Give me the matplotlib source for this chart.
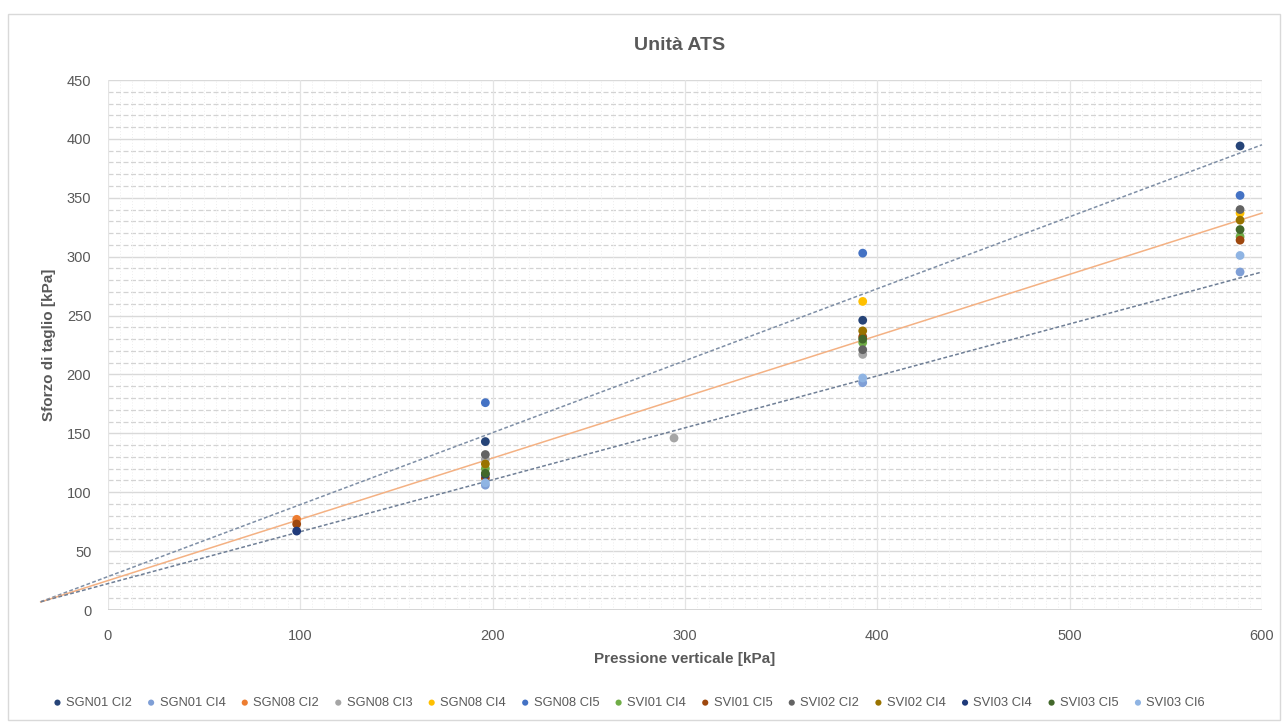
import matplotlib
matplotlib.use("Agg")
import matplotlib.pyplot as plt
from matplotlib.patches import Rectangle
import numpy as np

plt.rcParams['font.family'] = ['Liberation Sans', 'DejaVu Sans']

# Shear test results per specimen: vertical pressure [kPa] -> shear stress [kPa]
series_names = ["SGN01 CI2", "SGN01 CI4", "SGN08 CI2", "SGN08 CI3", "SGN08 CI4",
                "SGN08 CI5", "SVI01 CI4", "SVI01 CI5", "SVI02 CI2", "SVI02 CI4",
                "SVI03 CI4", "SVI03 CI5", "SVI03 CI6"]
series_colors = ["#264478", "#7F9FD6", "#ED7D31", "#A5A5A5", "#FFC000",
                 "#4472C4", "#70AD47", "#9E480E", "#636363", "#997300",
                 "#1F3A7A", "#43682B", "#8FB4E3"]

sgn01_ci2_x = [196.2, 392.4, 588.6]
sgn01_ci2_y = [143, 246, 394]
sgn01_ci4_x = [196.2, 392.4, 588.6]
sgn01_ci4_y = [106, 193, 287]
sgn08_ci2_x = [98.1]
sgn08_ci2_y = [77]
sgn08_ci3_x = [196.2, 294.3, 392.4]
sgn08_ci3_y = [128, 146, 217]
sgn08_ci4_x = [392.4, 588.6]
sgn08_ci4_y = [262, 337]
sgn08_ci5_x = [196.2, 392.4, 588.6]
sgn08_ci5_y = [176, 303, 352]
svi01_ci4_x = [196.2, 392.4, 588.6]
svi01_ci4_y = [120, 227, 317]
svi01_ci5_x = [98.1, 196.2, 392.4, 588.6]
svi01_ci5_y = [73, 112, 232, 314]
svi02_ci2_x = [196.2, 392.4, 588.6]
svi02_ci2_y = [132, 221, 340]
svi02_ci4_x = [196.2, 392.4, 588.6]
svi02_ci4_y = [124, 237, 331]
svi03_ci4_x = [98.1, 196.2]
svi03_ci4_y = [67, 115]
svi03_ci5_x = [196.2, 392.4, 588.6]
svi03_ci5_y = [116, 230, 323]
svi03_ci6_x = [196.2, 392.4, 588.6]
svi03_ci6_y = [108, 197, 301]

series_x = [sgn01_ci2_x, sgn01_ci4_x, sgn08_ci2_x, sgn08_ci3_x, sgn08_ci4_x,
            sgn08_ci5_x, svi01_ci4_x, svi01_ci5_x, svi02_ci2_x, svi02_ci4_x,
            svi03_ci4_x, svi03_ci5_x, svi03_ci6_x]
series_y = [sgn01_ci2_y, sgn01_ci4_y, sgn08_ci2_y, sgn08_ci3_y, sgn08_ci4_y,
            sgn08_ci5_y, svi01_ci4_y, svi01_ci5_y, svi02_ci2_y, svi02_ci4_y,
            svi03_ci4_y, svi03_ci5_y, svi03_ci6_y]

# Envelope trend lines (upper, mean, lower): slope and intercept
trend_slopes = [0.611, 0.520, 0.441]
trend_intercepts = [28.4, 25.0, 22.4]
trend_colors = ["#7F8FA6", "#F4B183", "#6F7F96"]
trend_styles = [(0, (2.5, 1.5)), "-", (0, (2.5, 1.5))]
trend_range = [-35, 600]

x_ticks = [0, 100, 200, 300, 400, 500, 600]
y_ticks = [0, 50, 100, 150, 200, 250, 300, 350, 400, 450]

W, H = 1286, 724
fig = plt.figure(figsize=(W / 100, H / 100), dpi=100)
fig.patches.append(Rectangle((8 / W, 4 / H), 1272 / W, 706 / H, transform=fig.transFigure,
                             fill=False, edgecolor="#D9D9D9", linewidth=1.0))

ax = fig.add_axes([108 / W, 1 - 610 / H, 1154 / W, 530 / H])
ax.set_xlim(0, 600)
ax.set_ylim(0, 450)

# Grid: minor lines every 10 kPa, major every 50 kPa
for v in np.arange(0, 451, 10):
    if v % 50 == 0:
        ax.axhline(v, color="#D9D9D9", lw=1.0, zorder=0)
    else:
        ax.axhline(v, color="#D3D3D3", lw=0.9, ls=(0, (4, 2)), zorder=0)
for v in np.arange(0, 601, 6.25):
    if v % 100 == 0:
        ax.axvline(v, color="#E4E4E4", lw=0.9, zorder=0)
    else:
        ax.axvline(v, color="#EDEDED", lw=0.7, ls=(0, (1, 2)), zorder=0)

for s in ax.spines.values():
    s.set_visible(False)
ax.axhline(0, color="#D0D0D0", lw=1.2, zorder=1)

ax.set_xticks(x_ticks)
ax.set_yticks(y_ticks)
ax.tick_params(length=0, labelsize=10.5, labelcolor="#595959", pad=12)
ax.tick_params(axis="x", pad=14)

# Trend lines extend slightly past the vertical axis
xx = np.array(trend_range, dtype=float)
for m, c, col, ls in zip(trend_slopes, trend_intercepts, trend_colors, trend_styles):
    ax.plot(xx, m * xx + c, color=col, lw=1.1, ls=ls, clip_on=False, zorder=2)

handles = []
for name, col, xs, ys in zip(series_names, series_colors, series_x, series_y):
    h = ax.scatter(xs, ys, s=40, color=col, label=name, zorder=3, edgecolors="none")
    handles.append(h)

ax.set_xlabel("Pressione verticale [kPa]", fontsize=11, fontweight="bold", color="#595959", labelpad=6)
ax.set_ylabel("Sforzo di taglio [kPa]", fontsize=11, fontweight="bold", color="#595959", labelpad=8)
fig.text(680 / W, 1 - 45 / H, "Unità ATS", ha="center", va="center",
         fontsize=14, fontweight="bold", color="#595959")

leg = fig.legend(handles=handles, loc="center", bbox_to_anchor=(628 / W, 1 - 703 / H),
                 ncol=13, frameon=False, fontsize=9.3, handletextpad=0.15, columnspacing=1.0,
                 markerscale=0.7, borderaxespad=0, handlelength=1.0)
for t in leg.get_texts():
    t.set_color("#595959")

fig.savefig("out.png", dpi=100)
